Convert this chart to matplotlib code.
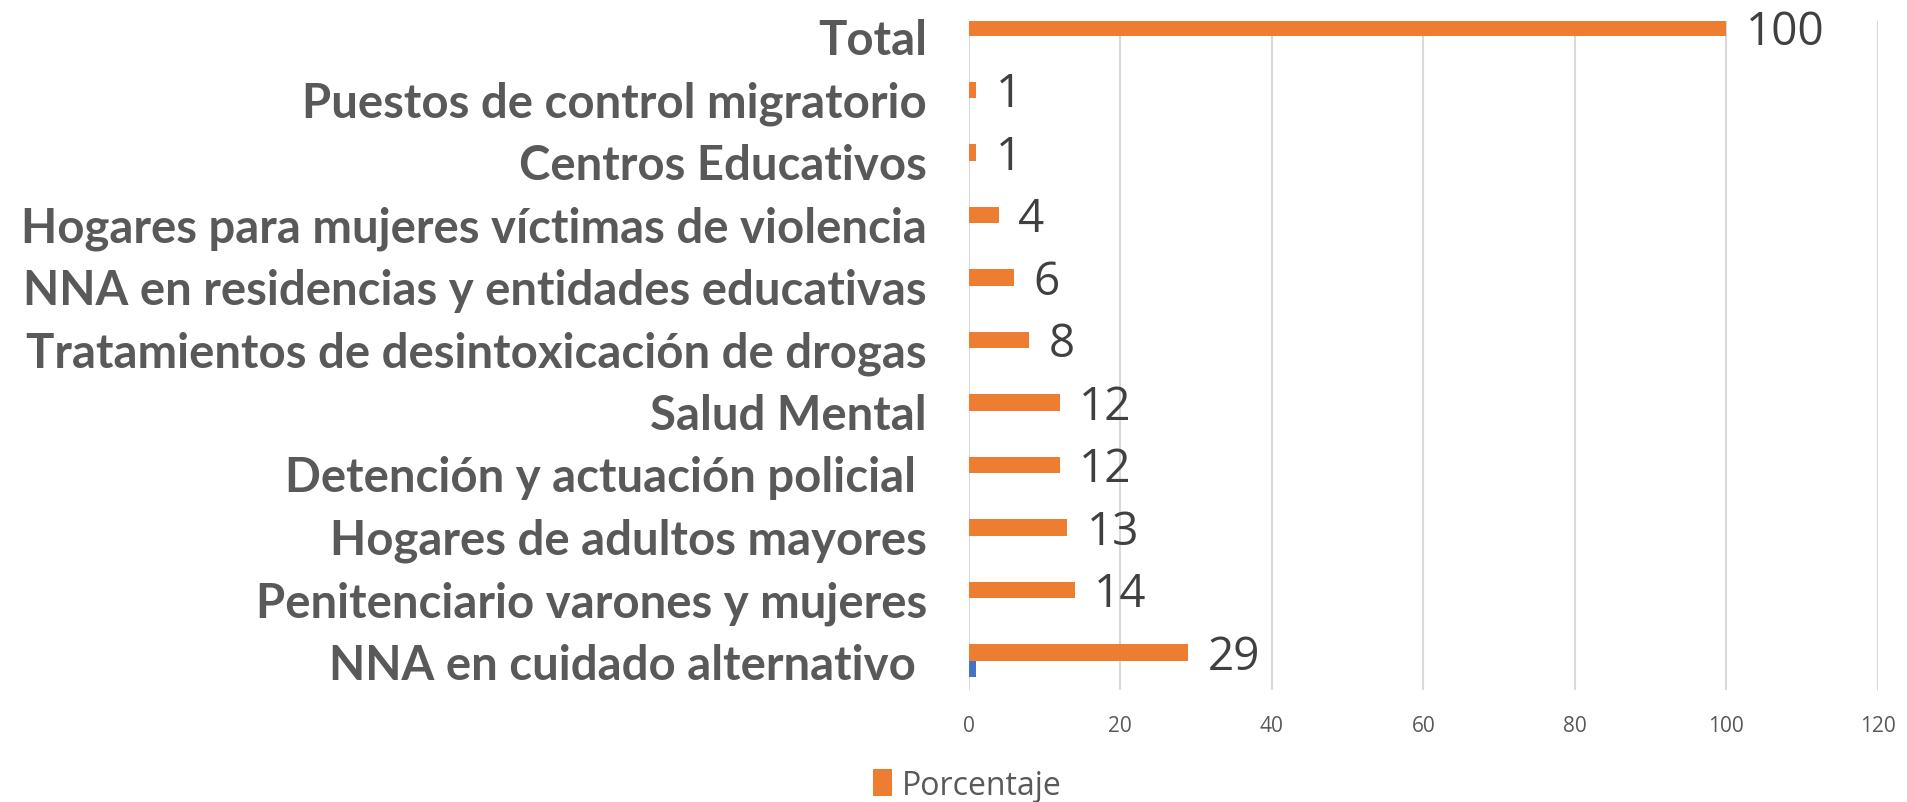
import matplotlib.pyplot as plt
import numpy as np

# categorias de abajo hacia arriba
categorias = ['NNA en cuidado alternativo ',
              'Penitenciario varones y mujeres',
              'Hogares de adultos mayores',
              'Detención y actuación policial ',
              'Salud Mental',
              'Tratamientos de desintoxicación de drogas',
              'NNA en residencias y entidades educativas',
              'Hogares para mujeres víctimas de violencia',
              'Centros Educativos',
              'Puestos de control migratorio',
              'Total']
porcentaje = [29, 14, 13, 12, 12, 8, 6, 4, 1, 1, 100]
otra_serie = [1, 0, 0, 0, 0, 0, 0, 0, 0, 0, 0]
xticks = [0, 20, 40, 60, 80, 100, 120]

naranja = '#ED7D31'
azul = '#4472C4'
gris = '#595959'

fig = plt.figure(figsize=(19.08, 8.03), dpi=100)
ax = fig.add_axes([0.5077, 0.1395, 0.4765, 0.8331])

y = np.arange(len(categorias))
h = 0.264
ax.barh(y + h / 2, porcentaje, height=h, color=naranja, label='Porcentaje', zorder=3)
ax.barh(y - h / 2, otra_serie, height=h, color=azul, zorder=3)

for yi, v in zip(y, porcentaje):
    ax.annotate(str(v), (v, yi + h / 2), xytext=(14, -3), textcoords='offset points',
                va='center', ha='left', fontsize=33, color='#404040', family='Open Sans')

ax.set_xlim(0, 120)
ax.set_ylim(-0.464, 10.24)
ax.set_xticks(xticks)
ax.set_xticklabels([str(t) for t in xticks], fontsize=15, color=gris, family='Open Sans')
ax.set_yticks(y)
ax.set_yticklabels(categorias, fontsize=34, fontweight='bold', color=gris, family='Lato')
ax.tick_params(axis='both', length=0)
ax.tick_params(axis='y', pad=30)
ax.tick_params(axis='x', pad=18)
ax.grid(axis='x', color='#d9d9d9', linewidth=1.5, zorder=0)
for s in ax.spines.values():
    s.set_visible(False)

fig.legend(handles=[ax.patches[0]], labels=['Porcentaje'], loc='center',
           bbox_to_anchor=(0.507, 0.021), frameon=False,
           prop={'family': 'Open Sans', 'size': 23}, labelcolor=gris,
           handlelength=0.6, handleheight=0.9, handletextpad=0.3)

fig.savefig('out.png', dpi=100, facecolor='white')
